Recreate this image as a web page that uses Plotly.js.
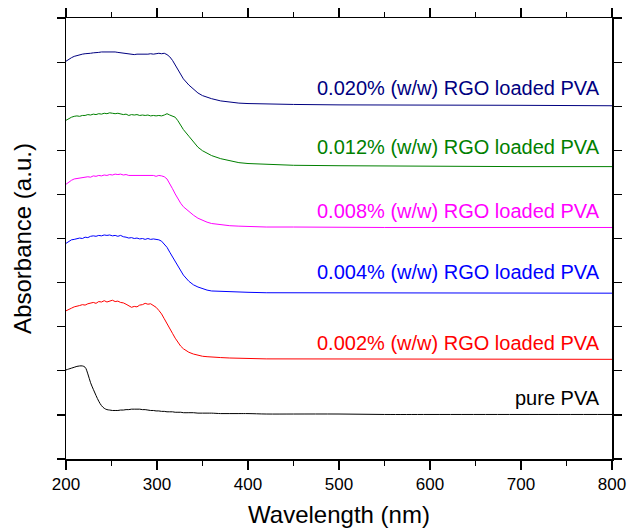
<!DOCTYPE html>
<html>
<head>
<meta charset="utf-8">
<script src="https://cdn.plot.ly/plotly-3.0.1.min.js"></script>
<style>html,body{margin:0;padding:0;background:#fff;}#chart{width:628px;height:530px;}</style>
</head>
<body>
<div id="chart"></div>
<script>
// Wavelength grid (nm)
const wavelength = [200,203,206,209,212,215,218,221,224,227,230,233,236,239,242,245,248,251,254,257,260,263,266,269,272,275,278,281,284,287,290,293,296,299,302,305,308,311,314,317,320,323,326,329,335,340,345,350,355,360,370,380,390,400,420,450,500,550,600,700,800];

// Absorbance (a.u., vertically offset curves)
const pva020 = [9.02,9.07,9.10,9.13,9.15,9.16,9.18,9.19,9.19,9.20,9.21,9.21,9.22,9.23,9.23,9.24,9.24,9.23,9.23,9.22,9.21,9.21,9.20,9.18,9.17,9.17,9.18,9.18,9.17,9.18,9.18,9.19,9.18,9.19,9.20,9.19,9.20,9.17,9.12,9.04,8.94,8.83,8.72,8.62,8.48,8.38,8.30,8.24,8.20,8.17,8.12,8.09,8.07,8.06,8.05,8.04,8.03,8.03,8.02,8.02,8.01];
const pva012 = [7.68,7.72,7.75,7.77,7.78,7.77,7.79,7.79,7.81,7.80,7.82,7.81,7.83,7.82,7.84,7.83,7.85,7.84,7.83,7.84,7.82,7.81,7.82,7.79,7.81,7.80,7.81,7.79,7.80,7.79,7.80,7.78,7.79,7.78,7.79,7.78,7.80,7.83,7.80,7.78,7.75,7.67,7.57,7.47,7.32,7.19,7.07,6.99,6.93,6.88,6.81,6.76,6.72,6.70,6.68,6.66,6.65,6.64,6.64,6.63,6.63];
const pva008 = [6.23,6.28,6.32,6.35,6.36,6.37,6.38,6.38,6.40,6.39,6.42,6.41,6.43,6.42,6.44,6.43,6.45,6.44,6.46,6.45,6.46,6.44,6.45,6.43,6.43,6.42,6.43,6.42,6.43,6.42,6.43,6.42,6.43,6.41,6.43,6.42,6.40,6.35,6.25,6.13,6.01,5.90,5.80,5.72,5.61,5.53,5.46,5.41,5.37,5.34,5.31,5.29,5.28,5.27,5.26,5.26,5.25,5.25,5.25,5.25,5.25];
const pva004 = [4.89,4.94,4.97,4.98,5.00,5.01,5.00,5.03,5.02,5.05,5.06,5.05,5.07,5.06,5.08,5.07,5.08,5.06,5.07,5.05,5.07,5.04,5.03,5.01,5.02,5.00,5.01,4.99,5.00,4.98,5.00,4.98,4.99,4.98,4.97,4.94,4.88,4.80,4.69,4.58,4.47,4.36,4.26,4.17,4.03,3.95,3.90,3.86,3.83,3.81,3.80,3.79,3.78,3.78,3.77,3.77,3.76,3.76,3.76,3.76,3.76];
const pva002 = [3.36,3.40,3.42,3.45,3.46,3.48,3.50,3.49,3.52,3.53,3.55,3.53,3.57,3.56,3.59,3.56,3.58,3.60,3.57,3.58,3.55,3.54,3.51,3.47,3.44,3.46,3.45,3.49,3.50,3.53,3.51,3.52,3.48,3.44,3.37,3.29,3.18,3.08,2.97,2.85,2.74,2.64,2.56,2.50,2.42,2.38,2.35,2.33,2.32,2.31,2.30,2.29,2.28,2.28,2.27,2.27,2.27,2.26,2.26,2.26,2.26];
const purePVA = [2.02,2.04,2.06,2.08,2.10,2.11,2.11,2.08,1.93,1.73,1.58,1.44,1.31,1.21,1.15,1.12,1.11,1.10,1.10,1.10,1.11,1.11,1.12,1.12,1.13,1.13,1.13,1.13,1.12,1.12,1.11,1.10,1.10,1.09,1.09,1.08,1.08,1.07,1.07,1.07,1.06,1.06,1.06,1.05,1.05,1.05,1.04,1.04,1.04,1.04,1.03,1.03,1.03,1.03,1.02,1.02,1.02,1.01,1.01,1.01,1.01];

const seriesNames = ["0.020% (w/w) RGO loaded PVA","0.012% (w/w) RGO loaded PVA","0.008% (w/w) RGO loaded PVA","0.004% (w/w) RGO loaded PVA","0.002% (w/w) RGO loaded PVA","pure PVA"];
const seriesData = [pva020, pva012, pva008, pva004, pva002, purePVA];
const seriesColors = ["#000080","#008000","#ff00ff","#0000ff","#ff0000","#000000"];
// label positions (data coords)
const labelX = 789;
const labelY = [8.41, 7.08, 5.63, 4.23, 2.62, 1.38];

const FONT = '"Liberation Sans", Arial, sans-serif';

const traces = seriesData.map((ys, i) => ({
  x: wavelength, y: ys, type: 'scatter', mode: 'lines',
  line: {color: seriesColors[i], width: 1, shape: i === 5 ? 'spline' : 'linear'},
  name: seriesNames[i], showlegend: false, hoverinfo: 'skip'
}));

const annotations = seriesNames.map((t, i) => ({
  x: labelX, y: labelY[i], xref: 'x', yref: 'y', text: t, showarrow: false,
  xanchor: 'right', yanchor: 'middle', font: {family: FONT, size: 20, color: seriesColors[i]}
}));

const layout = {
  width: 628, height: 530,
  margin: {l: 66, r: 16, t: 18, b: 71, pad: 0},
  paper_bgcolor: '#fff', plot_bgcolor: '#fff',
  font: {family: FONT, color: '#000'},
  showlegend: false,
  xaxis: {
    range: [200, 800], dtick: 100, tick0: 200,
    showgrid: false, zeroline: false,
    showline: true, linecolor: '#000', linewidth: 1.5, mirror: 'ticks',
    ticks: 'outside', ticklen: 9, tickwidth: 1.2, tickcolor: '#000',
    minor: {dtick: 50, ticks: 'outside', ticklen: 5, tickwidth: 1.2, tickcolor: '#000', showgrid: false},
    tickfont: {family: FONT, size: 17, color: '#000'},
    title: {text: 'Wavelength (nm)', font: {family: FONT, size: 24, color: '#000'}, standoff: 13},
    automargin: false
  },
  yaxis: {
    range: [0, 10], dtick: 1, tick0: 0,
    showgrid: false, zeroline: false,
    showline: true, linecolor: '#000', linewidth: 1.5, mirror: 'ticks',
    ticks: 'outside', ticklen: 8, tickwidth: 1.2, tickcolor: '#000',
    showticklabels: false,
    title: {text: 'Absorbance (a.u.)', font: {family: FONT, size: 24, color: '#000'}, standoff: 18},
    automargin: false
  },
  annotations: annotations
};

Plotly.newPlot('chart', traces, layout, {staticPlot: true, displayModeBar: false});
</script>
</body>
</html>
